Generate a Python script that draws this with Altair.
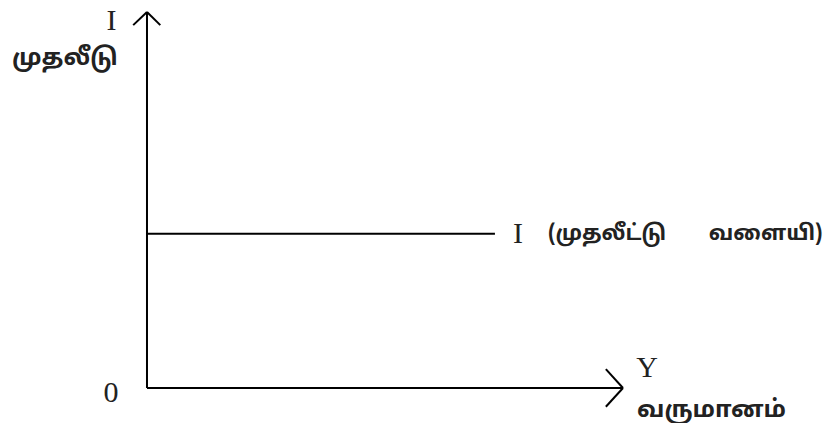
import altair as alt
import pandas as pd

# Line segments of the diagram (data units: Y income on x, I investment on y)
seg_x1 = [0.0, 0.0, 0.0, 0.0, 0.0, 10.0, 10.0]
seg_y1 = [0.0, 0.0, 4.1, 10.0, 10.0, 0.0, 0.0]
seg_x2 = [0.0, 10.0, 7.31, -0.29, 0.28, 9.64, 9.64]
seg_y2 = [10.0, 0.0, 4.1, 9.65, 9.65, 0.5, -0.5]

# Serif single-letter labels
ser_text = ["I", "I", "0", "Y"]
ser_x = [-0.746, 7.794, -0.756, 10.504]
ser_y = [9.76, 4.096, -0.13, 0.532]

# Tamil axis labels (left aligned)
tam_text = ["முதலீடு", "வருமானம்"]
tam_x = [-2.836, 10.294]
tam_y = [8.78, -0.59]

# Tamil curve label pieces (left aligned)
crv_text = ["(முதலீட்டு", "வளையி)"]
crv_x = [8.424, 11.80]
crv_y = [4.096, 4.096]

segs = pd.DataFrame({"x": seg_x1, "y": seg_y1, "x2": seg_x2, "y2": seg_y2})
ser = pd.DataFrame({"x": ser_x, "y": ser_y, "t": ser_text})
tam = pd.DataFrame({"x": tam_x, "y": tam_y, "t": tam_text})
crv = pd.DataFrame({"x": crv_x, "y": crv_y, "t": crv_text})

xs = alt.Scale(domain=[-2.920, 14.244], nice=False, zero=False)
ys = alt.Scale(domain=[-0.931, 10.106], nice=False, zero=False)

lines = alt.Chart(segs).mark_rule(color="black", strokeWidth=2).encode(
    x=alt.X("x:Q", scale=xs, axis=None),
    y=alt.Y("y:Q", scale=ys, axis=None),
    x2="x2:Q",
    y2="y2:Q",
)

serif = alt.Chart(ser).mark_text(
    font="Liberation Serif", fontSize=30, color="#222", align="center", baseline="middle"
).encode(
    x=alt.X("x:Q", scale=xs, axis=None),
    y=alt.Y("y:Q", scale=ys, axis=None),
    text="t:N",
)

tamil = alt.Chart(tam).mark_text(
    font="Noto Sans Tamil, Noto Sans", fontSize=24, fontWeight="bold", color="#222",
    align="left", baseline="middle"
).encode(
    x=alt.X("x:Q", scale=xs, axis=None),
    y=alt.Y("y:Q", scale=ys, axis=None),
    text="t:N",
)

curve = alt.Chart(crv).mark_text(
    font="Noto Sans Tamil, Noto Sans", fontSize=21.5, fontWeight="bold", color="#222",
    align="left", baseline="middle"
).encode(
    x=alt.X("x:Q", scale=xs, axis=None),
    y=alt.Y("y:Q", scale=ys, axis=None),
    text="t:N",
)

chart = alt.layer(lines, serif, tamil, curve).properties(
    width=817, height=415, autosize="none", padding=0
).configure_view(stroke=None)

chart.save("out.html", embed_options={"renderer": "svg", "actions": False})
